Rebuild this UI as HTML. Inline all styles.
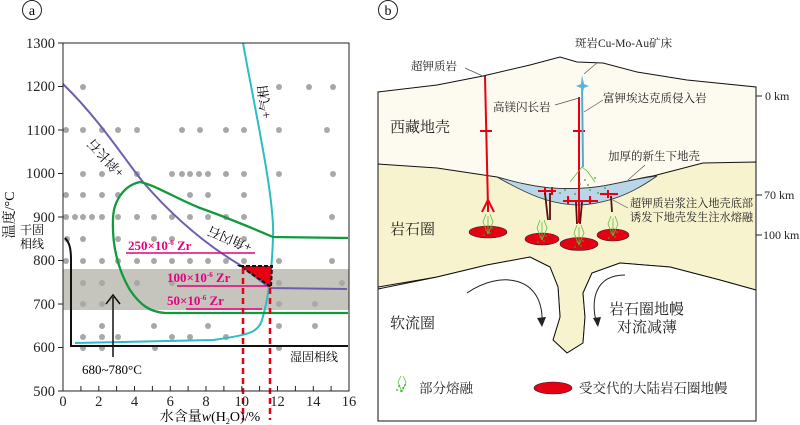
<!DOCTYPE html>
<html><head><meta charset="utf-8"><style>
html,body{margin:0;padding:0;background:#fff;}
svg{display:block;font-family:"Liberation Serif","Noto Serif CJK SC",serif;}
</style></head><body>
<svg width="800" height="425" viewBox="0 0 800 425" xmlns="http://www.w3.org/2000/svg">
<!-- Panel a -->
<circle cx="32" cy="10" r="9.5" fill="none" stroke="#222" stroke-width="1"/>
<text x="32" y="15" font-size="14" text-anchor="middle">a</text>
<rect x="63" y="269" width="286" height="41" fill="#c5c4bd"/>
<g fill="#a8a8a8">
<circle cx="83" cy="87" r="3"/><circle cx="279" cy="87" r="3"/><circle cx="309" cy="87" r="3"/><circle cx="333" cy="87" r="3"/>
<circle cx="66" cy="130" r="3"/><circle cx="83" cy="130" r="3"/><circle cx="102" cy="130" r="3"/><circle cx="118" cy="130" r="3"/><circle cx="137" cy="130" r="3"/><circle cx="182" cy="130" r="3"/><circle cx="200" cy="130" r="3"/><circle cx="226" cy="130" r="3"/><circle cx="244" cy="130" r="3"/><circle cx="279" cy="130" r="3"/><circle cx="327" cy="130" r="3"/>
<circle cx="83" cy="174" r="3"/><circle cx="102" cy="174" r="3"/><circle cx="137" cy="174" r="3"/><circle cx="172" cy="174" r="3"/><circle cx="182" cy="174" r="3"/><circle cx="190" cy="174" r="3"/><circle cx="199" cy="174" r="3"/><circle cx="208" cy="174" r="3"/><circle cx="226" cy="174" r="3"/><circle cx="244" cy="174" r="3"/><circle cx="279" cy="174" r="3"/><circle cx="333" cy="174" r="3"/>
<circle cx="66" cy="195" r="3"/><circle cx="83" cy="195" r="3"/><circle cx="102" cy="195" r="3"/><circle cx="118" cy="195" r="3"/><circle cx="190" cy="195" r="3"/><circle cx="208" cy="195" r="3"/><circle cx="244" cy="195" r="3"/>
<circle cx="66" cy="217" r="3"/><circle cx="75" cy="217" r="3"/><circle cx="83" cy="217" r="3"/><circle cx="92" cy="217" r="3"/><circle cx="102" cy="217" r="3"/><circle cx="118" cy="217" r="3"/><circle cx="137" cy="217" r="3"/><circle cx="154" cy="217" r="3"/><circle cx="172" cy="217" r="3"/><circle cx="190" cy="217" r="3"/><circle cx="208" cy="217" r="3"/><circle cx="226" cy="217" r="3"/><circle cx="244" cy="217" r="3"/><circle cx="332" cy="217" r="3"/>
<circle cx="67" cy="239" r="3"/><circle cx="83" cy="239" r="3"/><circle cx="118" cy="239" r="3"/><circle cx="154" cy="239" r="3"/><circle cx="172" cy="239" r="3"/><circle cx="244" cy="239" r="3"/>
<circle cx="66" cy="261" r="3"/><circle cx="83" cy="261" r="3"/><circle cx="102" cy="261" r="3"/><circle cx="118" cy="261" r="3"/><circle cx="137" cy="261" r="3"/><circle cx="154" cy="261" r="3"/><circle cx="172" cy="261" r="3"/><circle cx="190" cy="261" r="3"/><circle cx="208" cy="261" r="3"/><circle cx="226" cy="261" r="3"/><circle cx="244" cy="261" r="3"/><circle cx="279" cy="261" r="3"/><circle cx="332" cy="261" r="3"/>
<circle cx="83" cy="283" r="3"/><circle cx="102" cy="283" r="3"/><circle cx="137" cy="283" r="3"/><circle cx="172" cy="283" r="3"/><circle cx="279" cy="283" r="3"/><circle cx="342" cy="283" r="3"/>
<circle cx="83" cy="304" r="3"/><circle cx="102" cy="304" r="3"/><circle cx="279" cy="304" r="3"/><circle cx="315" cy="304" r="3"/>
<circle cx="102" cy="326" r="3"/><circle cx="154" cy="326" r="3"/><circle cx="208" cy="326" r="3"/><circle cx="279" cy="326" r="3"/><circle cx="315" cy="326" r="3"/>
<circle cx="83" cy="337" r="3"/><circle cx="102" cy="337" r="3"/><circle cx="118" cy="337" r="3"/><circle cx="172" cy="337" r="3"/><circle cx="190" cy="337" r="3"/><circle cx="226" cy="337" r="3"/>
<circle cx="83" cy="348" r="3"/><circle cx="102" cy="348" r="3"/><circle cx="155" cy="348" r="3"/><circle cx="279" cy="348" r="3"/>
</g>
<!-- curves -->
<path d="M63,84 C100,120 125,160 143,182 C180,225 215,250 240,265 L270,288 L347,289" fill="none" stroke="#6b5fb0" stroke-width="2"/>
<path d="M243,43 C255,110 275,200 273,237 C272,270 268,300 262,320 C258,332 250,335 213,340 L75,343" fill="none" stroke="#2bbcc4" stroke-width="2"/>
<path d="M348,238 L273,237 C245,225 220,215 200,208 C175,198 155,185 140,182 C125,185 113,200 113,220 C112,245 118,270 130,290 C140,305 150,312 165,313 L348,313" fill="none" stroke="#119a3c" stroke-width="2.3"/>
<path d="M65,238 C70,243 71,250 71,260 L71,346 L348,346" fill="none" stroke="#111" stroke-width="2"/>
<g stroke="#e6007e" stroke-width="1.6"><line x1="126" y1="253" x2="255" y2="253"/><line x1="177" y1="286" x2="269" y2="286"/><line x1="186" y1="309" x2="262" y2="309"/></g>
<g fill="#e6007e" font-size="13" font-weight="bold">
<text x="128" y="250">250×10<tspan font-size="7" dy="-5">-6</tspan><tspan dy="5"> Zr</tspan></text>
<text x="167" y="282">100×10<tspan font-size="7" dy="-5">-6</tspan><tspan dy="5"> Zr</tspan></text>
<text x="167" y="305">50×10<tspan font-size="7" dy="-5">-6</tspan><tspan dy="5"> Zr</tspan></text>
</g>
<polygon points="240,266 272,266 271,287" fill="#e60012" stroke="#111" stroke-width="2" stroke-dasharray="4,2"/>
<g stroke="#e60012" stroke-width="2.5" stroke-dasharray="6,4"><line x1="243" y1="268" x2="243" y2="420"/><line x1="270" y1="288" x2="270" y2="420"/></g>
<!-- axes -->
<rect x="63" y="43" width="286" height="348" fill="none" stroke="#222" stroke-width="1"/>
<g stroke="#222" stroke-width="1">
<line x1="58" y1="43" x2="63" y2="43"/><line x1="58" y1="86.5" x2="63" y2="86.5"/><line x1="58" y1="130" x2="63" y2="130"/><line x1="58" y1="173.5" x2="63" y2="173.5"/><line x1="58" y1="217" x2="63" y2="217"/><line x1="58" y1="260.5" x2="63" y2="260.5"/><line x1="58" y1="304" x2="63" y2="304"/><line x1="58" y1="347.5" x2="63" y2="347.5"/><line x1="58" y1="391" x2="63" y2="391"/>
<line x1="80.9" y1="386" x2="80.9" y2="391"/><line x1="98.8" y1="386" x2="98.8" y2="391"/><line x1="116.6" y1="386" x2="116.6" y2="391"/><line x1="134.5" y1="386" x2="134.5" y2="391"/><line x1="152.4" y1="386" x2="152.4" y2="391"/><line x1="170.3" y1="386" x2="170.3" y2="391"/><line x1="188.1" y1="386" x2="188.1" y2="391"/><line x1="206" y1="386" x2="206" y2="391"/><line x1="223.9" y1="386" x2="223.9" y2="391"/><line x1="241.8" y1="386" x2="241.8" y2="391"/><line x1="259.6" y1="386" x2="259.6" y2="391"/><line x1="277.5" y1="386" x2="277.5" y2="391"/><line x1="295.4" y1="386" x2="295.4" y2="391"/><line x1="313.3" y1="386" x2="313.3" y2="391"/><line x1="331.1" y1="386" x2="331.1" y2="391"/>
</g>
<g font-size="14.5" text-anchor="end" fill="#222">
<text x="55" y="48">1300</text><text x="55" y="91">1200</text><text x="55" y="135">1100</text><text x="55" y="178">1000</text><text x="55" y="222">900</text><text x="55" y="265">800</text><text x="55" y="309">700</text><text x="55" y="352">600</text><text x="55" y="396">500</text>
</g>
<g font-size="14.5" text-anchor="middle" fill="#222">
<text x="63" y="406">0</text><text x="98.8" y="406">2</text><text x="134.5" y="406">4</text><text x="170.3" y="406">6</text><text x="206" y="406">8</text><text x="241.8" y="406">10</text><text x="277.5" y="406">12</text><text x="313.3" y="406">14</text><text x="349" y="406">16</text>
</g>
<text x="210" y="421" font-size="14" text-anchor="middle">水含量<tspan font-style="italic">w</tspan>(H<tspan font-size="8" dy="3">2</tspan><tspan dy="-3">O)/%</tspan></text>
<text transform="translate(14,215) rotate(-90)" font-size="14" text-anchor="middle">温度/°C</text>
<text x="32" y="234" font-size="12" text-anchor="middle">干固</text>
<text x="32" y="248" font-size="12" text-anchor="middle">相线</text>
<text x="290" y="361" font-size="12">湿固相线</text>
<text x="82" y="374" font-size="13">680~780°C</text>
<line x1="113" y1="357" x2="113" y2="297" stroke="#111" stroke-width="1.5"/>
<path d="M106,304 L113,295 L120,304" fill="none" stroke="#111" stroke-width="1.5"/>
<text transform="translate(125,172) rotate(227)" font-size="13">+斜长石</text>
<text transform="translate(253,244) rotate(203)" font-size="13">+角闪石</text>
<text transform="translate(271,118) rotate(263)" font-size="13">+气相</text>

<!-- Panel b -->
<circle cx="388" cy="10" r="9.5" fill="none" stroke="#222" stroke-width="1"/>
<text x="388" y="15" font-size="14" text-anchor="middle">b</text>
<path d="M378,92 L437,85 L483,76 L530,65 L560,57 L577,62 L603,63 L637,72 L687,80 L756,87 L756,421 L378,421 Z" fill="#fdfbef"/>
<path d="M378,164 L437,168 L497,177 C515,182 530,186 550,188 C565,189 585,189 603,186 C625,182 640,178 653,176 L703,163 L756,162 L756,290 L720,280 L670,267 L620,263 L592,273 L583,293 L585,317 L583,343 L567,353 L553,340 L560,317 L558,287 L550,267 L530,257 L487,265 L437,277 L378,287 Z" fill="#f7f3cf" stroke="#111" stroke-width="1"/>
<path d="M378,289 L437,277 L487,265 L530,257 L550,267 L558,287 L560,317 L553,340 L567,353 L583,343 L585,317 L583,293 L592,273 L620,263 L670,267 L720,280 L756,290 L756,421 L378,421 Z" fill="#fff" stroke="#111" stroke-width="1"/>
<path d="M497,177 C515,182 530,186 550,188 C565,189 585,189 603,186 C625,182 640,178 657,176 C640,188 615,203 580,205 C550,205 525,193 497,177 Z" fill="#b9d6e8" stroke="#333" stroke-width="0.8"/>
<path d="M378,421 L378,92 L437,85 L483,76 L530,65 L560,57 L577,62 L603,63 L637,72 L687,80 L756,87 L756,421 Z" fill="none" stroke="#111" stroke-width="1"/>
<!-- dikes -->
<g stroke="#e60012" stroke-width="2" fill="none">
<line x1="485" y1="76" x2="488" y2="207"/>
<path d="M488,200 L482,212 M488,200 L494,212 M488,205 L488,212"/>
<line x1="480" y1="131" x2="492" y2="131"/>
<line x1="579" y1="97" x2="579" y2="223"/>
<line x1="573" y1="131" x2="585" y2="131"/>
<path d="M538,191 L556,191 M563,201 L598,201 M600,194 L618,194 M545,187 v8 M552,187 v8 M568,196 v8 M590,196 v8 M608,190 v8"/>
</g>
<g stroke="#5a1010" stroke-width="1.8">
<line x1="545" y1="193" x2="548" y2="220"/><line x1="550" y1="193" x2="550" y2="220"/>
<line x1="576" y1="202" x2="577" y2="224"/><line x1="582" y1="202" x2="580" y2="224"/>
<line x1="611" y1="196" x2="612" y2="212"/>
</g>
<line x1="582" y1="82" x2="583" y2="167" stroke="#5aa8d0" stroke-width="2"/>
<path d="M582,75 L584,84 L589,86 L584,88 L583,92 L581,88 L576,86 L581,84 Z" fill="#5ab4d8"/>
<!-- melts -->
<g fill="#e60012" stroke="#222" stroke-width="0.6">
<ellipse cx="488" cy="232" rx="19" ry="6"/><ellipse cx="542" cy="239" rx="17" ry="6"/><ellipse cx="579" cy="244" rx="19" ry="6.5"/><ellipse cx="613" cy="235" rx="16" ry="6"/>
<ellipse cx="553" cy="388" rx="19" ry="6"/>
</g>
<g stroke="#5cbf3a" stroke-width="0.8" fill="none">
<path d="M488,234 L483,222 L486,214 M488,234 L493,222 L490,214 M488,234 L488,216"/>
<path d="M542,240 L537,228 L540,220 M542,240 L547,228 L544,220 M542,240 L542,222"/>
<path d="M579,245 L574,233 L577,225 M579,245 L584,233 L581,225 M579,245 L579,227"/>
<path d="M613,236 L608,224 L611,216 M613,236 L618,224 L615,216 M613,236 L613,218"/>
<path d="M570,182 L578,172 L582,167 L588,172 L595,182"/>
<path d="M402,392 L398,382 L401,376 M402,392 L406,382 L403,376"/>
</g>
<g fill="#3a9a3a">
<circle cx="486" cy="230" r="0.9"/><circle cx="490" cy="233" r="0.9"/><circle cx="484" cy="235" r="0.9"/><circle cx="492" cy="228" r="0.9"/>
<circle cx="540" cy="237" r="0.9"/><circle cx="544" cy="241" r="0.9"/><circle cx="538" cy="242" r="0.9"/><circle cx="546" cy="236" r="0.9"/>
<circle cx="577" cy="242" r="0.9"/><circle cx="581" cy="246" r="0.9"/><circle cx="575" cy="247" r="0.9"/><circle cx="583" cy="241" r="0.9"/>
<circle cx="611" cy="233" r="0.9"/><circle cx="615" cy="237" r="0.9"/><circle cx="609" cy="238" r="0.9"/><circle cx="617" cy="232" r="0.9"/>
<circle cx="565" cy="190" r="0.9"/><circle cx="575" cy="194" r="0.9"/><circle cx="590" cy="190" r="0.9"/><circle cx="598" cy="193" r="0.9"/><circle cx="585" cy="180" r="0.9"/><circle cx="580" cy="184" r="0.9"/><circle cx="605" cy="188" r="0.9"/><circle cx="560" cy="193" r="0.9"/><circle cx="588" cy="185" r="0.9"/><circle cx="595" cy="178" r="0.9"/>
<circle cx="399" cy="386" r="0.9"/><circle cx="403" cy="388" r="0.9"/><circle cx="401" cy="391" r="0.9"/><circle cx="405" cy="385" r="0.9"/><circle cx="397" cy="390" r="0.9"/>
</g>
<!-- convection arrows -->
<g fill="none" stroke="#222" stroke-width="1">
<path d="M467,293 C500,270 545,275 542,325"/>
<path d="M625,275 C595,275 590,300 597,325"/>
</g>
<path d="M537,318 L542,327 L546,317 Z" fill="#222"/>
<path d="M593,318 L598,327 L601,317 Z" fill="#222"/>
<!-- leader lines -->
<g stroke="#555" stroke-width="0.7" fill="none">
<line x1="465" y1="68" x2="485" y2="77"/>
<line x1="598" y1="62" x2="584" y2="74"/>
<line x1="555" y1="105" x2="579" y2="98"/>
<line x1="603" y1="100" x2="584" y2="112"/>
<line x1="645" y1="165" x2="628" y2="180"/>
<line x1="628" y1="208" x2="613" y2="200"/>
</g>
<!-- scale -->
<g stroke="#222" stroke-width="1"><line x1="756" y1="96" x2="762" y2="96"/><line x1="756" y1="195" x2="762" y2="195"/><line x1="756" y1="235" x2="762" y2="235"/></g>
<g font-size="12" fill="#222">
<text x="765" y="100">0 km</text><text x="764" y="199">70 km</text><text x="763" y="239">100 km</text>
</g>
<g fill="#222">
<text x="390" y="132" font-size="15">西藏地壳</text>
<text x="390" y="234" font-size="15">岩石圈</text>
<text x="390" y="328" font-size="15">软流圈</text>
<text x="609" y="314" font-size="15">岩石圈地幔</text>
<text x="617" y="332" font-size="15">对流减薄</text>
<text x="575" y="47" font-size="11.5">斑岩Cu-Mo-Au矿床</text>
<text x="411" y="70" font-size="11.5">超钾质岩</text>
<text x="493" y="111" font-size="11.5">高镁闪长岩</text>
<text x="603" y="102" font-size="11.5">富钾埃达克质侵入岩</text>
<text x="608" y="160" font-size="11.5">加厚的新生下地壳</text>
<text x="630" y="207" font-size="11.2">超钾质岩浆注入地壳底部</text>
<text x="630" y="221" font-size="11.2">诱发下地壳发生注水熔融</text>
<text x="419" y="393" font-size="13.5">部分熔融</text>
<text x="579" y="393" font-size="13.5">受交代的大陆岩石圈地幔</text>
</g>
</svg>
</body></html>
